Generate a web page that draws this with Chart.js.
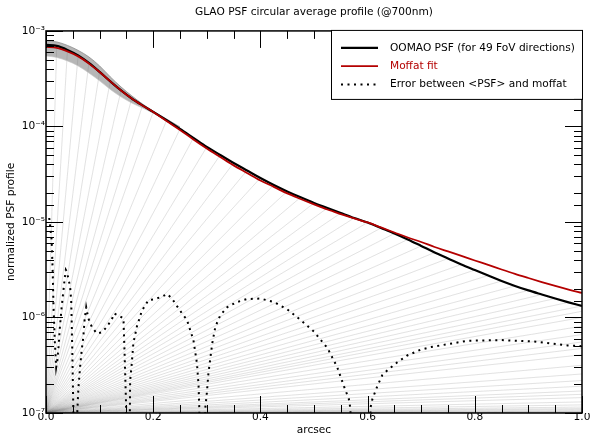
<!DOCTYPE html>
<html>
<head>
<meta charset="utf-8">
<script src="https://cdn.jsdelivr.net/npm/chart.js@4.4.1/dist/chart.umd.min.js"></script>
<style>
  html, body { margin: 0; padding: 0; background: #fff; }
  #chart { display: block; }
</style>
</head>
<body>
<canvas id="chart" width="591" height="438"></canvas>
<script>
// radial profile (arcsec) and the two main curves
const radius = [0, 0.02, 0.04, 0.06, 0.08, 0.10, 0.12, 0.14, 0.16, 0.18, 0.20,
  0.225, 0.25, 0.275, 0.30, 0.325, 0.35, 0.375, 0.40, 0.425, 0.45, 0.475, 0.50, 0.525, 0.55, 0.575, 0.60,
  0.625, 0.65, 0.675, 0.70, 0.725, 0.75, 0.775, 0.80, 0.825, 0.85, 0.875, 0.90, 0.925, 0.95, 0.975, 1.0];
const psfMean = [7.14e-4, 6.97e-4, 6.33e-4, 5.54e-4, 4.62e-4, 3.72e-4, 2.96e-4, 2.38e-4, 1.96e-4, 1.66e-4, 1.42e-4,
  1.16e-4, 9.42e-5, 7.58e-5, 6.10e-5, 5.03e-5, 4.15e-5, 3.46e-5, 2.89e-5, 2.44e-5, 2.09e-5, 1.81e-5, 1.58e-5,
  1.40e-5, 1.24e-5, 1.10e-5, 9.88e-6, 8.66e-6, 7.58e-6, 6.56e-6, 5.61e-6, 4.79e-6, 4.15e-6, 3.59e-6, 3.14e-6,
  2.75e-6, 2.41e-6, 2.14e-6, 1.92e-6, 1.74e-6, 1.58e-6, 1.44e-6, 1.32e-6];
const moffatFit = [6.80e-4, 6.64e-4, 6.10e-4, 5.41e-4, 4.57e-4, 3.72e-4, 2.96e-4, 2.38e-4, 1.96e-4, 1.66e-4, 1.42e-4,
  1.14e-4, 9.19e-5, 7.31e-5, 5.88e-5, 4.79e-5, 3.91e-5, 3.26e-5, 2.72e-5, 2.33e-5, 1.99e-5, 1.74e-5, 1.53e-5,
  1.35e-5, 1.21e-5, 1.09e-5, 9.88e-6, 8.76e-6, 7.76e-6, 6.88e-6, 6.17e-6, 5.47e-6, 4.91e-6, 4.41e-6, 3.95e-6,
  3.55e-6, 3.18e-6, 2.86e-6, 2.59e-6, 2.35e-6, 2.14e-6, 1.96e-6, 1.81e-6];

// spread of the 49 directions around the core
const bandRadius = [0, 0.02, 0.04, 0.06, 0.08, 0.10, 0.12, 0.14, 0.16, 0.18, 0.20, 0.25];
const psfUpper = [7.86e-4, 7.67e-4, 7.05e-4, 6.25e-4, 5.34e-4, 4.30e-4, 3.30e-4, 2.59e-4, 2.09e-4, 1.72e-4, 1.45e-4, 9.88e-5];
const psfLower = [5.47e-4, 5.28e-4, 4.85e-4, 4.30e-4, 3.63e-4, 3.00e-4, 2.44e-4, 2.04e-4, 1.76e-4, 1.56e-4, 1.38e-4, 9.64e-5];

// profile samples past 1 arcsec (only their connecting lines show)
const tailRadius = [1.03, 1.06, 1.1, 1.15, 1.2, 1.25, 1.3, 1.4, 1.5, 1.6, 1.7, 1.8, 1.9, 2.0, 2.2, 2.4, 2.6, 2.8,
  3.0, 3.3, 3.6, 4.0, 4.5, 5.0, 6.0, 7.0, 8.0];
const psfTail = [1.25e-6, 1.15e-6, 1.0e-6, 8.8e-7, 7.8e-7, 7.0e-7, 6.2e-7, 5.0e-7, 4.1e-7, 3.5e-7, 3.0e-7, 2.6e-7,
  2.35e-7, 2.1e-7, 1.8e-7, 1.6e-7, 1.45e-7, 1.35e-7, 1.28e-7, 1.2e-7, 1.15e-7, 1.1e-7, 1.07e-7, 1.05e-7,
  1.03e-7, 1.02e-7, 1.01e-7];

// |<PSF> - moffat|
const errRadius = [0.006, 0.0105, 0.0125, 0.014, 0.0165, 0.019, 0.021, 0.0235, 0.026, 0.029, 0.032, 0.035, 0.037,
  0.039, 0.045, 0.047, 0.048, 0.049, 0.050, 0.051, 0.053, 0.056, 0.0585, 0.0604, 0.0636, 0.0667, 0.0697, 0.072,
  0.075, 0.079, 0.0854, 0.0947, 0.104, 0.113, 0.123, 0.127, 0.135, 0.1445, 0.1458, 0.1477, 0.1495, 0.151, 0.154,
  0.1565, 0.157, 0.160, 0.163, 0.1695, 0.179, 0.191, 0.204, 0.216, 0.226, 0.235, 0.25, 0.263, 0.275, 0.2817,
  0.2847, 0.286, 0.288, 0.295, 0.297, 0.300, 0.303, 0.307, 0.310, 0.316, 0.325, 0.338, 0.356, 0.375, 0.40,
  0.425, 0.45, 0.475, 0.50, 0.525, 0.543, 0.556, 0.565, 0.568, 0.571, 0.600, 0.6056, 0.609, 0.618, 0.6275,
  0.637, 0.6555, 0.674, 0.699, 0.718, 0.786, 0.849, 0.911, 0.973, 1.0];
const errValues = [1.1e-5, 6.5e-6, 3.0e-6, 1.3e-6, 5.5e-7, 3.0e-7, 3.5e-7, 5.0e-7, 8.0e-7, 1.25e-6, 1.8e-6, 2.6e-6, 3.15e-6,
  3.0e-6, 2.1e-6, 1.5e-6, 8.8e-7, 4.6e-7, 2.2e-7, 1.1e-7, 1e-8, 1e-8, 1.05e-7, 1.8e-7, 3.05e-7, 4.6e-7, 6.3e-7, 9.4e-7,
  1.28e-6, 9.8e-7, 8.0e-7, 6.8e-7, 7.0e-7, 7.9e-7, 9.6e-7, 1.1e-6, 1.05e-6, 9.8e-7, 5.9e-7, 2.6e-7, 1.16e-7, 1e-8, 1e-8,
  1.1e-7, 2.2e-7, 3.3e-7, 5.4e-7, 8.0e-7, 1.18e-6, 1.52e-6, 1.56e-6, 1.65e-6, 1.76e-6, 1.58e-6, 1.18e-6, 9.4e-7, 5.8e-7, 3.3e-7,
  1.9e-7, 1.1e-7, 1e-8, 1e-8, 1.1e-7, 1.6e-7, 2.6e-7, 3.9e-7, 5.3e-7, 8.0e-7, 1.05e-6, 1.28e-6, 1.45e-6, 1.56e-6, 1.58e-6,
  1.45e-6, 1.22e-6, 9.4e-7, 7.1e-7, 4.8e-7, 3.05e-7, 1.9e-7, 1.4e-7, 1.1e-7, 1e-8, 1e-8, 1.15e-7, 1.4e-7, 1.9e-7, 2.5e-7,
  2.8e-7, 3.4e-7, 4.0e-7, 4.6e-7, 4.9e-7, 5.7e-7, 5.8e-7, 5.6e-7, 5.1e-7, 5.0e-7];

const xTicks = [0, 0.05, 0.1, 0.15, 0.2, 0.25, 0.3, 0.35, 0.4, 0.45, 0.5, 0.55, 0.6, 0.65, 0.7, 0.75, 0.8, 0.85, 0.9, 0.95, 1.0];
const xMajor = [0, 0.2, 0.4, 0.6, 0.8, 1.0];
const xLabels = ['0.0', '0.2', '0.4', '0.6', '0.8', '1.0'];
const Y_MIN = 1e-7, Y_MAX = 1e-3;

const RED = '#b40000';
const FONT = '"DejaVu Sans", sans-serif';

function pts(xs, ys) {
  return xs.map((x, i) => ({x, y: ys[i]}));
}

// every sample of the profiles is tied back to the origin
const fanTargets = [
  ...pts(radius, psfMean).slice(1),
  ...pts(tailRadius, psfTail)
];
const fanData = [];
fanTargets.forEach(p => fanData.push({x: 0, y: Y_MIN}, p));

const SUP = {'-': '⁻', '0': '⁰', '1': '¹', '2': '²', '3': '³', '4': '⁴', '5': '⁵', '6': '⁶', '7': '⁷', '8': '⁸', '9': '⁹'};
function decadeLabel(v) {
  const e = Math.round(Math.log10(v));
  if (Math.abs(v / Math.pow(10, e) - 1) > 1e-6) return '';
  return '10' + String(e).split('').map(c => SUP[c]).join('');
}
function isXMajor(v) {
  return xMajor.some(m => Math.abs(m - v) < 1e-9);
}

// matplotlib style: inward ticks on all four sides + frame
const frameTicks = {
  id: 'frameTicks',
  afterDatasetsDraw(chart) {
    const {ctx, chartArea: a, scales: {x, y}} = chart;
    ctx.save();
    ctx.strokeStyle = '#000';
    ctx.lineWidth = 1;
    ctx.beginPath();
    x.ticks.forEach(t => {
      const px = Math.round(x.getPixelForValue(t.value)) + 0.5;
      const len = isXMajor(t.value) ? 17 : 8;
      ctx.moveTo(px, a.bottom); ctx.lineTo(px, a.bottom - len);
      ctx.moveTo(px, a.top); ctx.lineTo(px, a.top + len);
    });
    y.ticks.forEach(t => {
      const py = Math.round(y.getPixelForValue(t.value)) + 0.5;
      const len = decadeLabel(t.value) ? 17 : 8;
      ctx.moveTo(a.left, py); ctx.lineTo(a.left + len, py);
      ctx.moveTo(a.right, py); ctx.lineTo(a.right - len, py);
    });
    ctx.stroke();
    ctx.lineWidth = 1.5;
    ctx.strokeRect(a.left, a.top, a.right - a.left, a.bottom - a.top);
    ctx.restore();
  }
};

const boxLegend = {
  id: 'boxLegend',
  afterDraw(chart) {
    const {ctx, chartArea: a} = chart;
    const items = chart.data.datasets.filter(d => d.inLegend);
    const w = 252, h = 69;
    const left = a.right - w + 1, top = a.top - 1;
    ctx.save();
    ctx.fillStyle = '#fff';
    ctx.fillRect(left, top, w, h);
    ctx.strokeStyle = '#000';
    ctx.lineWidth = 1;
    ctx.strokeRect(left + 0.5, top + 0.5, w - 1, h);
    ctx.font = '10.6px ' + FONT;
    ctx.textBaseline = 'middle';
    items.forEach((d, i) => {
      const yy = top + 18 + i * 18.3;
      ctx.beginPath();
      ctx.setLineDash(d.borderDash || []);
      ctx.strokeStyle = d.borderColor;
      ctx.lineWidth = d.borderWidth;
      ctx.moveTo(left + 10, yy);
      ctx.lineTo(left + 47, yy);
      ctx.stroke();
      ctx.fillStyle = d.labelColor;
      ctx.fillText(d.label, left + 59, yy);
    });
    ctx.restore();
  }
};

Chart.defaults.font.family = FONT;
Chart.defaults.font.size = 10.6;
Chart.defaults.color = '#000';

new Chart(document.getElementById('chart'), {
  type: 'line',
  data: {
    datasets: [
      {
        label: 'OOMAO PSF (for 49 FoV directions)',
        data: pts(radius, psfMean),
        borderColor: '#000',
        borderWidth: 2.2,
        cubicInterpolationMode: 'monotone',
        inLegend: true, labelColor: '#000',
        order: 1
      },
      {
        label: 'Moffat fit',
        data: pts(radius, moffatFit),
        borderColor: RED,
        borderWidth: 1.8,
        cubicInterpolationMode: 'monotone',
        inLegend: true, labelColor: RED,
        order: 0
      },
      {
        label: 'Error between <PSF> and moffat',
        data: pts(errRadius, errValues),
        borderColor: '#000',
        borderWidth: 2,
        borderDash: [2, 4.5],
        tension: 0,
        inLegend: true, labelColor: '#000',
        order: 2
      },
      {
        label: 'upper',
        data: pts(bandRadius, psfUpper),
        borderColor: '#8a8a8a',
        borderWidth: 0.8,
        cubicInterpolationMode: 'monotone',
        order: 3
      },
      {
        label: 'lower',
        data: pts(bandRadius, psfLower),
        borderColor: '#c4c4c4',
        borderWidth: 0.6,
        backgroundColor: 'rgba(110,110,110,0.5)',
        fill: '-1',
        cubicInterpolationMode: 'monotone',
        order: 4
      },
      {
        label: 'fan',
        data: fanData,
        borderColor: 'rgba(120,120,120,0.22)',
        borderWidth: 0.5,
        tension: 0,
        order: 5
      }
    ]
  },
  options: {
    responsive: false,
    animation: false,
    events: [],
    devicePixelRatio: 1,
    layout: { padding: { left: 0, right: 9, top: 0, bottom: 0 } },
    elements: { point: { radius: 0 } },
    plugins: {
      legend: { display: false },
      tooltip: { enabled: false },
      title: {
        display: true,
        fullSize: false,
        text: 'GLAO PSF circular average profile (@700nm)',
        font: { size: 10.6, weight: 'normal' },
        color: '#000',
        padding: { top: 5.6, bottom: 12.6 }
      }
    },
    scales: {
      x: {
        type: 'linear',
        min: 0,
        max: 1,
        grid: { display: false, drawTicks: false },
        border: { display: false },
        afterBuildTicks: s => { s.ticks = xTicks.map(v => ({value: v})); },
        afterFit: s => { s.height = 25; },
        ticks: {
          autoSkip: false,
          maxRotation: 0,
          padding: -2,
          callback: v => {
            const i = xMajor.findIndex(m => Math.abs(m - v) < 1e-9);
            return i >= 0 ? xLabels[i] : '';
          }
        },
        title: { display: true, text: 'arcsec', padding: { top: 0, bottom: 1.6 } }
      },
      y: {
        type: 'logarithmic',
        min: Y_MIN,
        max: Y_MAX,
        grid: { display: false, drawTicks: false },
        border: { display: false },
        afterFit: s => { s.width = 46; },
        ticks: {
          autoSkip: false,
          padding: 1,
          callback: v => decadeLabel(v)
        },
        title: { display: true, text: 'normalized PSF profile', padding: { top: 4.6, bottom: 0 } }
      }
    }
  },
  plugins: [frameTicks, boxLegend]
});
</script>
</body>
</html>
